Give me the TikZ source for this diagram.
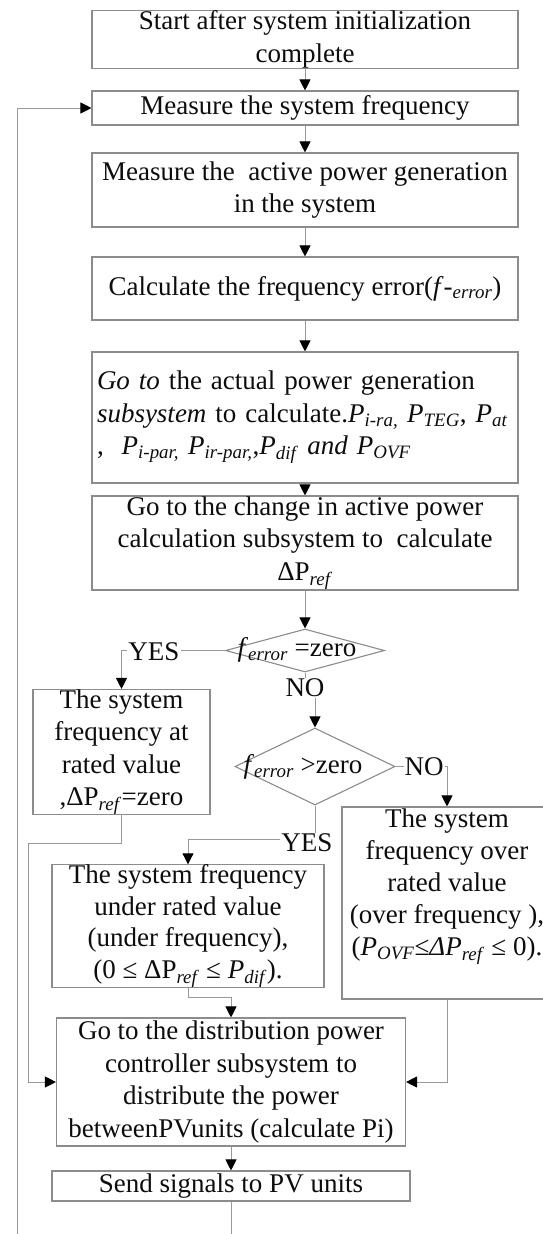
\documentclass[tikz,border=0pt]{standalone}
\usepackage{fontspec}
\setmainfont{Liberation Serif}
\usetikzlibrary{arrows.meta,shapes.geometric,backgrounds}
\newcommand{\sbs}[1]{\textsubscript{\textit{#1}}}
\newcommand{\fsz}{\fontsize{27}{32.5}\selectfont}
\begin{document}
\begin{tikzpicture}[x=1pt,y=-1pt,
  box/.style={draw=black!45, line width=1.1pt, inner sep=0pt, align=center, font=\fsz, text=black!95},
  dia/.style={diamond, draw=black!45, line width=1.1pt, inner sep=0pt},
  conn/.style={draw=black!40, line width=0.9pt},
  arr/.style={conn, -{Triangle[length=11pt,width=11pt,color=black]}},
  lbl/.style={fill=white, inner sep=1pt, font=\fsz, text=black!95},
  txt/.style={inner sep=0pt, align=center, font=\fsz, text=black!95}]
\clip (0,0) rectangle (543,1234);
% boxes
\node[box, minimum width=426, minimum height=55] (b1) at (305,39.5) {Start after system initialization\\complete};
\node[box, minimum width=426, minimum height=34] (b2) at (305,108) {Measure the system frequency};
\node[box, minimum width=426, minimum height=74] (b3) at (305,190) {Measure the\ \ active power generation\\in the system};
\node[box, minimum width=426, minimum height=63] (b4) at (305,288.5) {Calculate the frequency error(\textit{f}-\sbs{error})};
\node[box, minimum width=426, minimum height=131, text width=416, align=left] (b5) at (305,417.5) {\textit{Go to} the actual power generation\\\textit{subsystem} to calculate.\textit{P}\sbs{i-ra,} \textit{P}\sbs{TEG}, \textit{P}\sbs{at}\\, \ \textit{P}\sbs{i-par,} \textit{P}\sbs{ir-par,},\textit{P}\sbs{dif} \textit{and} \textit{P}\sbs{OVF}};
\node[box, minimum width=426, minimum height=94] (b6) at (305,543) {Go to the change in active power\\calculation subsystem to\ \ calculate\\ΔP\sbs{ref}};
% decisions
\node[dia, minimum width=159, minimum height=43] (d1) at (305,650.5) {};
\node[txt] (t1) at (297,650) {\textit{f}\sbs{error} =zero};
\node[dia, minimum width=160, minimum height=77] (d2) at (315,766.5) {};
\node[txt] (t2) at (303,767) {\textit{f}\sbs{error} >zero};
% result boxes
\node[box, minimum width=177, minimum height=122] (b7) at (121.5,752) {The system\\frequency at\\rated value\\,ΔP\sbs{ref}=zero};
\node[box, minimum width=272, minimum height=118, font=\fontsize{27}{31.5}\selectfont] (b8) at (188,926) {The system frequency\\under rated value\\(under frequency),\\(0 ≤ ΔP\sbs{ref} ≤ \textit{P}\sbs{dif}).};
\node[box, minimum width=210, minimum height=192] (b9) at (447,903) {};
\node[txt, font=\fontsize{27}{32}\selectfont] (t9) at (447,886.5) {The system\\frequency over\\rated value\\(over frequency ),\\(\textit{P}\sbs{OVF}≤\textit{ΔP}\sbs{ref} ≤ 0).};
\node[box, minimum width=349, minimum height=128] (b10) at (231,1082) {Go to the distribution power\\controller subsystem to\\distribute the power\\betweenPVunits (calculate Pi)};
\node[box, minimum width=358, minimum height=30] (b11) at (231,1186) {Send signals to PV units};
% labels
\node[lbl] (yes1) at (154,652) {YES};
\node[lbl] (no1) at (305,688) {NO};
\node[lbl] (no2) at (424,767) {NO};
\node[lbl] (yes2) at (307,843) {YES};
% bend points
\coordinate (c8) at (188,839);
\coordinate (c7a) at (121.5,843);
\coordinate (c7b) at (28,843);
\coordinate (c8b) at (188,997);
\coordinate (lp1) at (231,1245);
\coordinate (lp2) at (17,1245);
\coordinate (lp3) at (17,108);
\begin{pgfonlayer}{background}
\fill[white] (0,0) rectangle (543,1234);
\draw[arr] (b1) -- (b2);
\draw[arr] (b2) -- (b3);
\draw[arr] (b3) -- (b4);
\draw[arr] (b4) -- (b5);
\draw[arr] (b5) -- (b6);
\draw[arr] (b6) -- (d1);
\draw[arr] (d1.west) -| (b7.north);
\draw[conn] (d1.south) -- (no1);
\draw[arr] (d2.north |- no1.south) -- (d2.north);
\draw[arr] (d2.east) -| (b9.north);
\draw[arr] (d2.south) |- (c8) -- (b8.north);
\draw[arr] (b7.south) -- (c7a) -- (c7b) |- (b10.west);
\draw[arr] (b8.south) -- (c8b) -| (b10.north);
\draw[arr] (b9.south) |- (b10.east);
\draw[arr] (b10) -- (b11);
\draw[arr] (b11.south) -- (lp1) -- (lp2) -- (lp3) -- (b2.west);
\end{pgfonlayer}
\end{tikzpicture}
\end{document}
